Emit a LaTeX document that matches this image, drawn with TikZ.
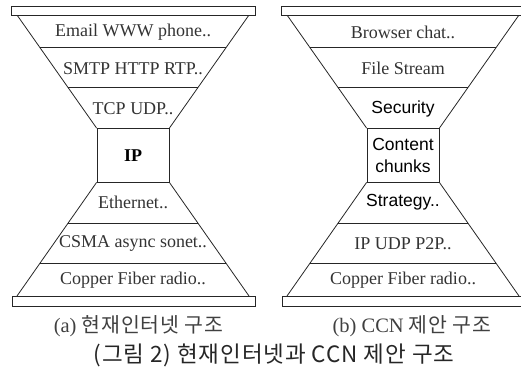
\documentclass[tikz,border=0pt]{standalone}
\usepackage{fontspec}
\setmainfont{Liberation Serif}
\newfontfamily\krfont[LetterSpace=4]{Noto Sans CJK KR}
\newfontfamily\gulfont{Liberation Sans}
\usetikzlibrary{positioning,calc}

\begin{document}
\begin{tikzpicture}[x=1pt,y=-1pt,line width=0.8pt,draw=black!85,
    layer/.style={font=\fontsize{18}{20}\selectfont,text=black!80,inner sep=0pt},
    layersf/.style={font=\gulfont\fontsize{17.5}{22}\selectfont,text=black,inner sep=0pt,align=center},
    waist/.style={draw=black!85,minimum width=72pt,minimum height=53.5pt,inner sep=0pt,align=center},
    caption/.style={font=\fontsize{20.5}{22}\selectfont,text=black!75,inner sep=0pt}]
  \useasboundingbox (0,0) rectangle (521,378);

  %(a) current internet
  \node[waist,font=\bfseries\fontsize{18}{20}\selectfont] (ip) at (133,155.25) {IP};
  \coordinate (atl) at (17,15);   \coordinate (atr) at (249,15);
  \coordinate (abl) at (17,296);  \coordinate (abr) at (249,296);
  \draw (atl) -- (ip.north west) (atr) -- (ip.north east);
  \draw (ip.south west) -- (abl) (ip.south east) -- (abr);
  \draw ($(atl)!.29!(ip.north west)$) -- ($(atr)!.29!(ip.north east)$);
  \draw ($(atl)!.643!(ip.north west)$) -- ($(atr)!.643!(ip.north east)$);
  \draw ($(ip.south west)!.36!(abl)$) -- ($(ip.south east)!.36!(abr)$);
  \draw ($(ip.south west)!.71!(abl)$) -- ($(ip.south east)!.71!(abr)$);
  \draw[fill=white] (11,6) rectangle (255,15);
  \draw[fill=white] (12,296) rectangle (255,306);
  \node[layer] (email) at (133,32) {Email WWW phone..};
  \node[layer] (smtp) at (133,68.5) {SMTP HTTP RTP..};
  \node[layer] (tcp) at (133,108.5) {TCP UDP..};
  \node[layer] (ether) at (133,202.5) {Ethernet..};
  \node[layer] (csma) at (133,243.5) {CSMA async sonet..};
  \node[layer] (copa) at (133,280) {Copper Fiber radio..};

  %(b) ccn
  \node[waist,layersf,draw=black!85] (ccn) at (403,155.25) {Content\\chunks};
  \coordinate (btl) at (287,15);  \coordinate (btr) at (519,15);
  \coordinate (bbl) at (287,296); \coordinate (bbr) at (519,296);
  \draw (btl) -- (ccn.north west) (btr) -- (ccn.north east);
  \draw (ccn.south west) -- (bbl) (ccn.south east) -- (bbr);
  \draw ($(btl)!.29!(ccn.north west)$) -- ($(btr)!.29!(ccn.north east)$);
  \draw ($(btl)!.643!(ccn.north west)$) -- ($(btr)!.643!(ccn.north east)$);
  \draw ($(ccn.south west)!.36!(bbl)$) -- ($(ccn.south east)!.36!(bbr)$);
  \draw ($(ccn.south west)!.71!(bbl)$) -- ($(ccn.south east)!.71!(bbr)$);
  \draw[fill=white] (281,6) rectangle (525,15);
  \draw[fill=white] (282,296) rectangle (525,306);
  \node[layer] (browser) at (403,32) {Browser chat..};
  \node[layer] (file) at (403,68.5) {File Stream};
  \node[layersf] (sec) at (403,108.5) {Security};
  \node[layersf] (strat) at (403,202.5) {Strategy..};
  \node[layer] (p2p) at (403,243.5) {IP UDP P2P..};
  \node[layer] (copb) at (403,280) {Copper Fiber radio..};

  %captions
  \node[caption] (capa) at (138.5,326) {(a) {\krfont 현재인터넷 구조}};
  \node[caption] (capb) at (412,326) {(b) CCN {\krfont 제안 구조}};
  \node[caption,font=\krfont\fontsize{22.5}{24}\selectfont,text=black!85] (cap) at (274,355) {(그림 2) 현재인터넷과 CCN 제안 구조};
\end{tikzpicture}
\end{document}
